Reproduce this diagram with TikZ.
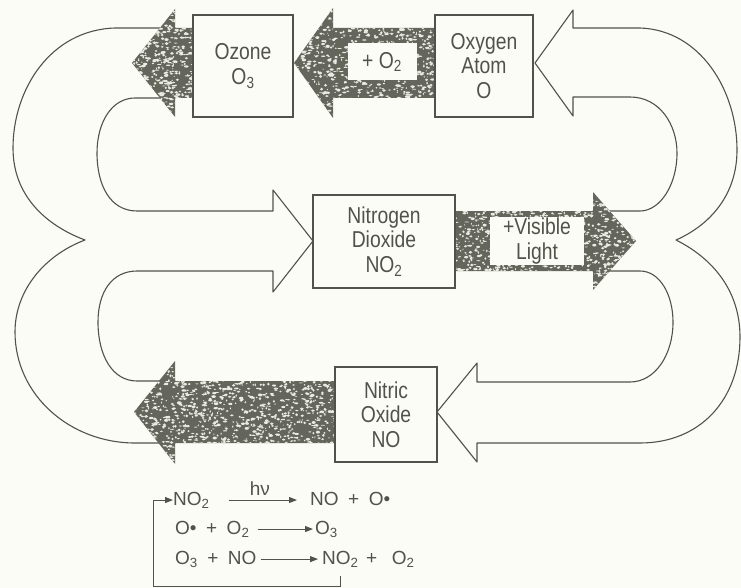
\documentclass[tikz,border=0pt]{standalone}
\usepackage{fontspec}
\setmainfont{Liberation Sans}
\newfontfamily\boxfamily[FakeStretch=0.84]{Liberation Sans}
\usetikzlibrary{positioning,arrows.meta,calc}

\definecolor{ink}{RGB}{80,83,74}
\definecolor{paper}{RGB}{252,252,247}
\definecolor{grit}{RGB}{100,102,92}

% light flecks on the dark arrows
\newcommand{\speckle}[5]{%
  \foreach \k in {1,...,#5}{%
    \fill[paper!88!grit] ({#1+rnd*(#2-#1)},{#3+rnd*(#4-#3)})
        ellipse [x radius={0.5+rnd*1.8}, y radius={0.4+rnd*1.1}];
  }}

\begin{document}
\begin{tikzpicture}[
    x=1pt, y=-1pt,
    box/.style={
        draw=ink,
        fill=paper,
        line width=1.1pt,
        text=ink,
        align=center,
        inner sep=2pt,
        font=\boxfamily\fontsize{23}{24.5}\selectfont
    },
    tag/.style={fill=paper, text=ink, align=center, inner sep=1pt,
        font=\boxfamily\fontsize{23}{24.5}\selectfont},
    band/.style={draw=ink, fill=paper, line width=1.1pt, line join=round},
    eq/.style={text=ink, inner sep=0pt, font=\fontsize{19}{21}\selectfont},
    rx/.style={-{Triangle[length=8pt,width=6pt]}, draw=ink, line width=1pt},
    fback/.style={rx, shorten <=8pt}
]
\pgfmathsetseed{4}
\fill[paper] (0,0) rectangle (741,588);
\useasboundingbox (0,0) rectangle (741,588);

% white band on the left, feeding NO2
\path[band] (175,28) -- (115,28) .. controls (50,30) and (13,90) .. (13,148)
    .. controls (13,195) and (45,225) .. (85,240)
    .. controls (45,255) and (15,290) .. (15,332)
    .. controls (15,395) and (70,443) .. (135,443) -- (175,443) -- (175,381)
    -- (137,381) .. controls (112,381) and (98,355) .. (98,322)
    .. controls (98,292) and (112,271) .. (137,271)
    -- (273,271) -- (273,292) -- (313,241) -- (273,190) -- (273,211)
    -- (137,211) .. controls (110,211) and (97,185) .. (97,153)
    .. controls (97,122) and (112,98) .. (135,98) -- (175,98) -- cycle;

% white band on the right, out of the visible light arrow
\path[band] (593,211) -- (640,211) .. controls (660,211) and (677,185) .. (677,153)
    .. controls (677,125) and (660,97) .. (630,97)
    -- (573,97) -- (573,116) -- (535,63) -- (573,10) -- (573,28)
    -- (640,28) .. controls (700,30) and (737,90) .. (737,150)
    .. controls (737,195) and (710,225) .. (676,240)
    .. controls (712,258) and (740,290) .. (740,337)
    .. controls (740,400) and (700,443) .. (640,443)
    -- (477,443) -- (477,462) -- (437,412) -- (477,363) -- (477,382)
    -- (630,382) .. controls (655,382) and (673,355) .. (673,322)
    .. controls (673,295) and (660,271) .. (640,271) -- (593,271) -- cycle;

% dark arrows
\begin{scope}
  \clip (200,28) -- (175,28) -- (175,9) -- (132,63) -- (175,117) -- (175,98) -- (200,98) -- cycle;
  \fill[grit] (130,5) rectangle (200,120);
  \speckle{130}{200}{5}{120}{650}
\end{scope}
\begin{scope}
  \clip (440,28) -- (333,28) -- (333,8) -- (294,63) -- (333,118) -- (333,98) -- (440,98) -- cycle;
  \fill[grit] (290,5) rectangle (440,120);
  \speckle{290}{440}{5}{120}{1100}
\end{scope}
\begin{scope}
  \clip (340,381) -- (175,381) -- (175,361) -- (134,412) -- (175,464) -- (175,443) -- (340,443) -- cycle;
  \fill[grit] (130,358) rectangle (340,466);
  \speckle{130}{340}{358}{466}{1500}
\end{scope}
\begin{scope}
  \clip (450,211) -- (593,211) -- (593,192) -- (636,241) -- (593,290) -- (593,271) -- (450,271) -- cycle;
  \fill[grit] (450,190) rectangle (640,292);
  \speckle{450}{640}{190}{292}{1300}
\end{scope}

% species
\node[box, minimum width=100pt, minimum height=102pt] (ozone) at (243,66) {Ozone\\O\textsubscript{3}};
\node[box, minimum width=98pt, minimum height=102pt] (oatom) at (484,66) {Oxygen\\Atom\\O};
\node[box, minimum width=142pt, minimum height=93pt] (nodio) at (384,241.5) {Nitrogen\\Dioxide\\NO\textsubscript{2}};
\node[box, minimum width=102pt, minimum height=95pt] (nomon) at (386,414.5) {Nitric\\Oxide\\NO};

\node[tag, minimum width=69pt, minimum height=37pt] (addox) at (382,62) {+ O\textsubscript{2}};
\node[tag, minimum width=94pt, minimum height=48pt] (light) at (537,241) {+Visible\\Light};

% reactions
\node[eq, anchor=base west] (rone) at (173,505) {NO\textsubscript{2}};
\node[eq, anchor=base west] (pone) at (310,505) {NO\enspace+\enspace O\textbullet};
\node[eq, anchor=base west] (rtwo) at (175,534) {O\textbullet\enspace+\enspace O\textsubscript{2}};
\node[eq, anchor=base west] (ptwo) at (315,534) {O\textsubscript{3}};
\node[eq, anchor=base west] (rthree) at (175,564) {O\textsubscript{3}\enspace+\enspace NO};
\node[eq, anchor=base west] (pthree) at (322,564) {NO\textsubscript{2}};
\node[eq, base right=7pt of pthree] (pfour) {+\enspace\ O\textsubscript{2}};
\coordinate (fbk) at (153,586);

\draw[rx, shorten <=19pt, shorten >=13pt] (rone.east) -- (rone.east -| pone.west)
    node[midway, above=4pt, eq] {hν};
\draw[rx, shorten <=8pt, shorten >=2pt] (rtwo.east) -- (rtwo.east -| ptwo.west);
\draw[rx, shorten <=4pt, shorten >=4pt] (rthree.east) -- (rthree.east -| pthree.west);
\draw[fback] (pthree.south) |- (fbk) |- (rone.west);

\end{tikzpicture}
\end{document}
